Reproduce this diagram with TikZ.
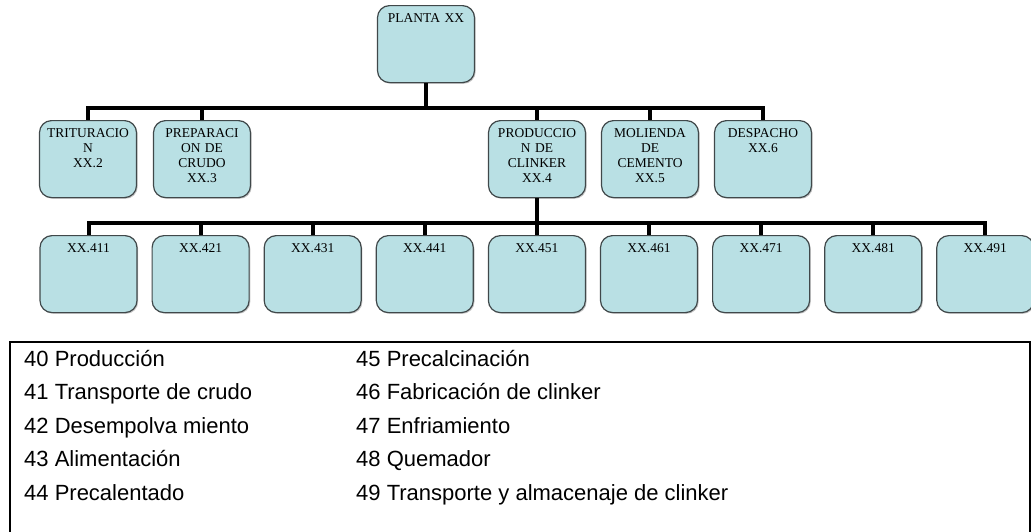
\documentclass[tikz,border=0pt]{standalone}
\usepackage{fontspec}
\setmainfont{Liberation Serif}
\newfontfamily\legfont{Liberation Sans}
\usetikzlibrary{positioning,shadows}
\definecolor{boxfill}{RGB}{185,224,228}
\definecolor{boxline}{RGB}{64,72,74}

\begin{document}
\begin{tikzpicture}[x=1pt,y=-1pt,
		box/.style={draw=boxline,fill=boxfill,line width=1.2pt,rounded corners=12pt,anchor=north,
			text width=90pt,align=center,inner xsep=3.5pt,inner ysep=3.5pt,text height=13pt,text depth=57pt,
			font=\fontsize{13.5}{15}\selectfont,
			drop shadow={shadow xshift=1.2pt,shadow yshift=-1.2pt,fill=black!45,opacity=.5}},
		conn/.style={line width=4pt,to path={(\tikztostart.south) -- ++(0,25) -| (\tikztotarget.north)}},
		leg/.style={anchor=base west,inner sep=0pt,font=\legfont\fontsize{22}{26}\selectfont}]
			\useasboundingbox (0,0) rectangle (1031,531);

			\node[box] (planta) at (426,5) {PLANTA XX};

			\node[box] (trit) at (88,120) {TRITURACIO\\N\\XX.2};
			\node[box] (prep) at (202,120) {PREPARACI\\ON DE\\CRUDO\\XX.3};
			\node[box] (prod) at (537,120) {PRODUCCIO\\N DE\\CLINKER\\XX.4};
			\node[box] (mol) at (650,120) {MOLIENDA\\DE\\CEMENTO\\XX.5};
			\node[box] (desp) at (763,120) {DESPACHO\\XX.6};

			\node[box] (x411) at (88.5,235) {XX.411};
			\node[box] (x421) at (200.6,235) {XX.421};
			\node[box] (x431) at (312.7,235) {XX.431};
			\node[box] (x441) at (424.8,235) {XX.441};
			\node[box] (x451) at (536.9,235) {XX.451};
			\node[box] (x461) at (649,235) {XX.461};
			\node[box] (x471) at (761.1,235) {XX.471};
			\node[box] (x481) at (873.2,235) {XX.481};
			\node[box] (x491) at (985.3,235) {XX.491};

			\path[conn] (planta) edge (trit) edge (prep) edge (prod) edge (mol) edge (desp)
						 (prod) edge (x411) edge (x421) edge (x431) edge (x441) edge (x451)
						 edge (x461) edge (x471) edge (x481) edge (x491);

			\draw[line width=1.5pt] (10,540) -- (10,342) -- (1030,342) -- (1030,540);

			\node[leg] (l40) at (24,366) {40 Producción};
			\node[leg] (l41) at (24,399.5) {41 Transporte de crudo};
			\node[leg] (l42) at (24,433) {42 Desempolva miento};
			\node[leg] (l43) at (24,466.5) {43 Alimentación};
			\node[leg] (l44) at (24,500) {44 Precalentado};
			\node[leg] (l45) at (356,366) {45 Precalcinación};
			\node[leg] (l46) at (356,399.5) {46 Fabricación de clinker};
			\node[leg] (l47) at (356,433) {47 Enfriamiento};
			\node[leg] (l48) at (356,466.5) {48 Quemador};
			\node[leg] (l49) at (356,500) {49 Transporte y almacenaje de clinker};
		\end{tikzpicture}
\end{document}
